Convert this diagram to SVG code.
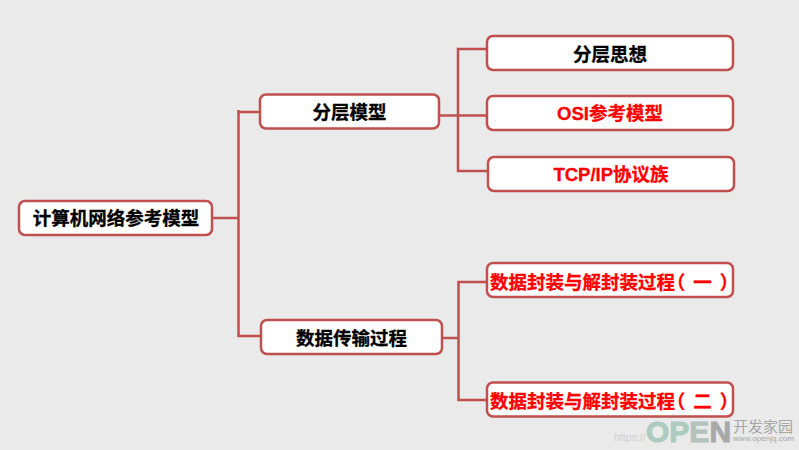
<svg xmlns="http://www.w3.org/2000/svg" width="799" height="450" viewBox="0 0 799 450">
  <style>
    .box { fill: #ffffff; stroke: #c0504d; stroke-width: 2.5; }
    .link { fill: none; stroke: #c0504d; stroke-width: 2.5; }
    text { font-family: "Liberation Sans", "Noto Sans CJK SC", sans-serif; font-weight: 700; font-size: 18.500px; text-anchor: middle; }
    .k { fill: #000000; stroke: #000000; stroke-width: .3; }
    .r { fill: #ff0000; stroke: #ff0000; stroke-width: .3; }
    .s { text-anchor: start; font-feature-settings: "halt"; }
    .mark { font-size: 30px; text-anchor: start; stroke-width: 1; }
    .g1 { fill: #aecbc0; stroke: #aecbc0; }
    .g2 { fill: #b4c2bd; stroke: #b4c2bd; }
    .g3 { fill: #a8a8a8; stroke: #a8a8a8; }
    .site { fill: #a6a6a6; font-weight: 400; text-anchor: start; }
  </style>
  <rect width="799" height="450" fill="#eaeaea"/>

  <g id="connectors">
    <path class="link" d="M212 218H238.500M259 112H238.500M238.500 110V336H260"/>
    <path class="link" d="M439 115.500H487M487 49H458V171H488"/>
    <path class="link" d="M442 338H458.500M487 282H458.500V400H487"/>
  </g>

  <g id="root"><rect class="box" x="19" y="201" width="193" height="34" rx="6"/><text class="k" x="116" y="224.500">计算机网络参考模型</text></g>
  <g id="layer-model"><rect class="box" x="260" y="94.500" width="179" height="34" rx="6"/><text class="k" x="349.500" y="118.500">分层模型</text></g>
  <g id="transfer"><rect class="box" x="261" y="320" width="181" height="34" rx="6"/><text class="k" x="351.500" y="344.500">数据传输过程</text></g>
  <g id="layer-idea"><rect class="box" x="487" y="36" width="246" height="34" rx="6"/><text class="k" x="610" y="60.500">分层思想</text></g>
  <g id="osi"><rect class="box" x="487" y="96" width="246" height="34" rx="6"/><text class="r" x="610" y="120">OSI参考模型</text></g>
  <g id="tcpip"><rect class="box" x="488" y="157" width="246" height="34" rx="6"/><text class="r" x="611" y="181">TCP/IP协议族</text></g>
  <g id="encap-one"><rect class="box" x="487" y="263" width="246" height="34" rx="6"/><text class="r s" x="490" y="288.500">数据封装与解封装过程<tspan dx="1">（</tspan><tspan dx="8">一</tspan><tspan dx="8">）</tspan></text></g>
  <g id="encap-two"><rect class="box" x="487" y="382.500" width="246" height="34" rx="6"/><text class="r s" x="490" y="407.500">数据封装与解封装过程<tspan dx="1">（</tspan><tspan dx="8">二</tspan><tspan dx="8">）</tspan></text></g>

  <!-- site marks in the lower right corner -->
  <text class="site" x="614" y="441" style="font-size:10.500px;fill:#d0d0d0">https://</text>
  <text class="mark" x="646" y="442"><tspan class="g1">OP</tspan><tspan class="g2">E</tspan><tspan class="g3">N</tspan></text>
  <text class="site" x="733" y="432" style="font-size:15px">开发家园</text>
  <text class="site" x="733" y="441" style="font-size:8px" textLength="61">www.openjq.com</text>
</svg>
